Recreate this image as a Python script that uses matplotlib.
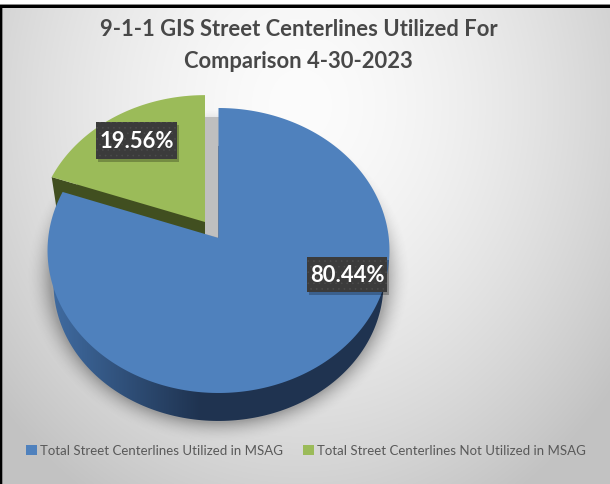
import numpy as np
import matplotlib
matplotlib.use("Agg")
import matplotlib.pyplot as plt
from matplotlib.patches import Polygon, Rectangle, Patch

title_lines = ["9-1-1 GIS Street Centerlines Utilized For", "Comparison 4-30-2023"]
categories = ["Total Street Centerlines Utilized in MSAG",
              "Total Street Centerlines Not Utilized in MSAG"]
shares = [80.44, 19.56]
labels = ["80.44%", "19.56%"]
colors = ["#4f81bd", "#9bbb59"]

FONT = "Lato"

W, H = 610, 484
fig = plt.figure(figsize=(W / 100, H / 100), dpi=100, facecolor="white")
ax = fig.add_axes([0, 0, 1, 1])
ax.set_xlim(0, W)
ax.set_ylim(H, 0)
ax.axis("off")

# panel background
yy, xx = np.mgrid[0:H, 0:W]
d = np.hypot((xx - 300) / 345, (yy - 105) / 400)
grey = np.clip(252 - 46 * np.minimum(d, 1.15) ** 1.6, 0, 255) / 255
ax.imshow(np.dstack([grey] * 3), extent=(0, W, H, 0), aspect="auto", zorder=0,
          interpolation="bilinear")
ax.set_xlim(0, W)
ax.set_ylim(H, 0)

# soft shadow under the pie
e = np.hypot((xx - 218) / 172, (yy - 275) / 150)
a = np.clip((1.12 - e) / 0.14, 0, 1) ** 2 * 0.38
sh = np.zeros((H, W, 4))
sh[..., :3] = 0.25
sh[..., 3] = a
ax.imshow(sh, extent=(0, W, H, 0), aspect="auto", zorder=1, interpolation="bilinear")
ax.set_xlim(0, W)
ax.set_ylim(H, 0)

# perspective pie geometry
K = 0.0877


def rim(t0, t1, apex, ax_x, ax_y, scale=1.0, dy=0.0):
    t = np.radians(np.linspace(t0, t1, 240))
    u, v = np.sin(t), np.cos(t)
    w = 1 + K * v
    x = apex[0] + scale * ax_x * u / w
    y = apex[1] - scale * ax_y * v / w + dy
    pts = np.column_stack([x, y])
    return np.vstack([[apex[0], apex[1] + dy], pts])


ang = np.cumsum([0] + shares) * 3.6
BLUE_APEX, GREEN_APEX = (218.5, 238), (205, 222)
BLUE_AX, GREEN_AX = (170.3, 141.4), (167.5, 138.0)
SCALE, DROP = 0.965, 33.4

# gap shadow
ax.add_patch(Polygon([(205, 117), (220, 117), (220, 238), (205, 234)],
                     fc="#bfbfbf", ec="none", zorder=2))

# green slice (side face, then top)
gl = rim(ang[1], ang[2], GREEN_APEX, *GREEN_AX, SCALE, DROP)
gt = rim(ang[1], ang[2], GREEN_APEX, *GREEN_AX)
ax.add_patch(Polygon(gl, fc="#414f20", ec="none", zorder=3))
ax.add_patch(Polygon([gt[0], gt[1], gl[1], gl[0]], fc="#414f20", ec="none", zorder=3))
ax.add_patch(Polygon([gt[0], gt[-1], gl[-1], gl[0]], fc="#414f20", ec="none", zorder=3))
ax.add_patch(Polygon(gt, fc=colors[1], ec="none", zorder=4))

# blue slice side with horizontal shading
bl = rim(ang[0], ang[1], BLUE_APEX, *BLUE_AX, SCALE, DROP)
side = Polygon(bl, fc="none", ec="none", zorder=5)
ax.add_patch(side)
c0 = np.array([0x40, 0x6c, 0xa2]) / 255
c1 = np.array([0x1f, 0x33, 0x50]) / 255
f = np.clip((np.arange(W) - 50) / 150, 0, 1)[None, :, None]
grad = c0 * (1 - f) + c1 * f
im = ax.imshow(np.repeat(grad, 2, axis=0), extent=(0, W, H, 0), aspect="auto", zorder=5)
im.set_clip_path(side)
ax.set_xlim(0, W)
ax.set_ylim(H, 0)

# blue slice top
ax.add_patch(Polygon(rim(ang[0], ang[1], BLUE_APEX, *BLUE_AX), fc=colors[0], ec="none", zorder=6))

plt.rcParams["hatch.linewidth"] = 0.4


def data_label(text, x0, y0, x1, y1):
    ax.add_patch(Rectangle((x0 + 2, y0 + 3), x1 - x0, y1 - y0, fc="black", alpha=0.25,
                           ec="none", zorder=7))
    ax.add_patch(Rectangle((x0, y0), x1 - x0, y1 - y0, fc="#3b3b3b", ec="#4c4c4c", lw=0,
                           hatch="...", zorder=8))
    ax.text((x0 + x1) / 2, (y0 + y1) / 2 + 0.5, text, color="white", fontsize=15.8, family=FONT,
            weight="bold", ha="center", va="center", zorder=9)


data_label(labels[0], 307, 257, 387, 292)
data_label(labels[1], 96, 122, 177, 159)

# title
ax.text(298.5, 29, title_lines[0], fontsize=15.8, family=FONT, weight="bold", color="#484848",
        ha="center", va="center", zorder=9)
ax.text(298.5, 61, title_lines[1], fontsize=15.8, family=FONT, weight="bold", color="#484848",
        ha="center", va="center", zorder=9)

# legend
handles = [Patch(fc=c, ec="none", label=n) for c, n in zip(colors, categories)]
ax.legend(handles=handles, loc="center", bbox_to_anchor=(306, 451), bbox_transform=ax.transData,
          ncols=2, frameon=False, prop={"family": FONT, "size": 9.5}, labelcolor="#595959",
          handlelength=0.8, handleheight=0.8, handletextpad=0.25, columnspacing=1.5,
          borderpad=0, borderaxespad=0)

# image border
ax.add_patch(Rectangle((0, 4), W, 1, fc="#8a8a8a", ec="none", zorder=10))
ax.add_patch(Rectangle((0, 5), W, 3, fc="black", ec="none", zorder=10))
ax.add_patch(Rectangle((0, 5), 1.5, H, fc="black", ec="none", zorder=10))
ax.add_patch(Rectangle((1.5, 8), 1, H, fc="#8a8a8a", ec="none", zorder=10))
ax.add_patch(Rectangle((0, 0), W, 4, fc="white", ec="none", zorder=10))

fig.savefig("out.png", dpi=100)
